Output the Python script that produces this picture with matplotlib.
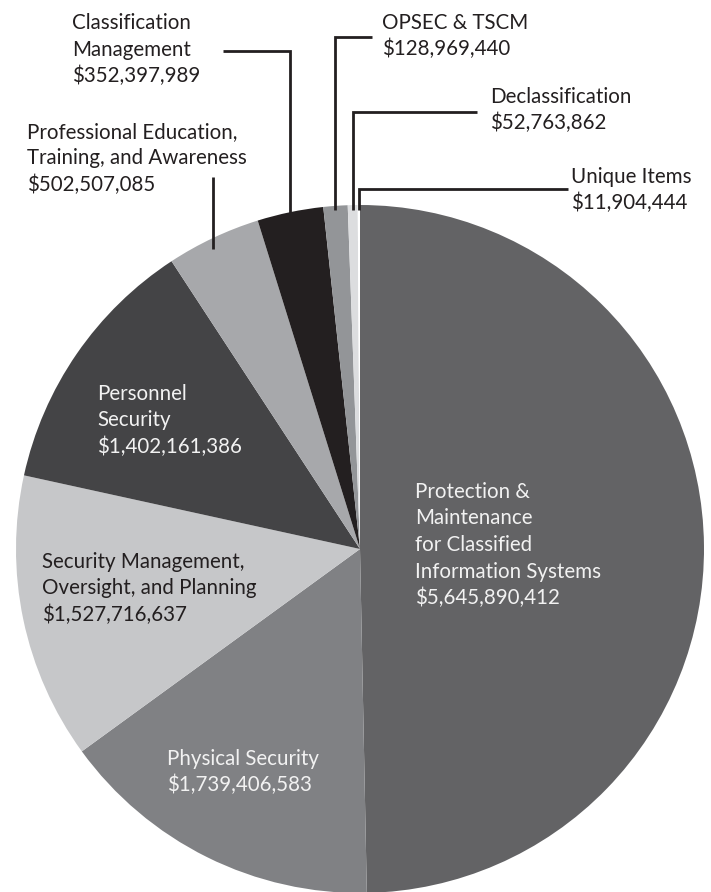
import numpy as np
import matplotlib
matplotlib.use("Agg")
import matplotlib.pyplot as plt

# ---- data (clockwise from 12 o'clock) ----
categories = [
    "Protection &\nMaintenance\nfor Classified\nInformation Systems",
    "Physical Security",
    "Security Management,\nOversight, and Planning",
    "Personnel\nSecurity",
    "Professional Education,\nTraining, and Awareness",
    "Classification\nManagement",
    "OPSEC & TSCM",
    "Declassification",
    "Unique Items",
]
values = [5645890412, 1739406583, 1527716637, 1402161386, 502507085,
          352397989, 128969440, 52763862, 11904444]
colors = ["#636365", "#808184", "#c6c7c9", "#444446", "#a7a8ab",
          "#231f20", "#939598", "#dcdddf", "#ffffff"]

W, H = 711, 892
FONT = ["Lato", "DejaVu Sans"]
DARK = "#231f20"
LIGHT = "#f2f2f2"
FS = 14.8
STEP = 26.5

fig = plt.figure(figsize=(W / 100, H / 100), dpi=100)
ax = fig.add_axes([0, 0, 1, 1])

def Y(y):
    return H - y

cx, cy, R = 360, Y(549), 344
wedges, _ = ax.pie(values, colors=colors, startangle=90, counterclock=False,
                   center=(cx, cy), radius=R, wedgeprops=dict(linewidth=0))
ax.set_xlim(0, W)
ax.set_ylim(0, H)
ax.set_aspect("auto")
ax.axis("off")

def money(v):
    return "${:,}".format(v)

def label(i, x, y_first, color):
    lines = categories[i].split("\n") + [money(values[i])]
    for k, s in enumerate(lines):
        ax.text(x, Y(y_first + 7 + k * STEP), s, ha="left", va="baseline",
                fontsize=FS, color=color, family=FONT, fontweight="normal")

# interior labels
label(0, 415, 491, LIGHT)
label(1, 167, 758, LIGHT)
label(2, 42, 561, DARK)
label(3, 97, 393, LIGHT)
# exterior labels
label(4, 27, 131, DARK)
label(5, 72, 22, DARK)
label(6, 382, 22, DARK)
label(7, 490, 96, DARK)
label(8, 571, 176, DARK)

def edge_point(i, inset):
    w = wedges[i]
    th = np.deg2rad((w.theta1 + w.theta2) / 2)
    return cx + R * np.cos(th), cy + (R - inset) * np.sin(th)

lw = 2.0
# Professional Education: vertical only
x, ye = edge_point(4, 12)
ax.plot([x, x], [Y(177), ye], color=DARK, lw=lw, solid_capstyle="butt")
# elbow leaders: (index, y of horizontal, x start of horizontal, inset)
for i, yh, xs, inset in [(5, 51, 223, 6), (6, 37, 372, 4), (7, 112, 477, 5), (8, 189, 568, 5)]:
    x, ye = edge_point(i, inset)
    ax.plot([xs, x, x], [Y(yh), Y(yh), ye], color=DARK, lw=lw,
            solid_joinstyle="miter", solid_capstyle="butt")

fig.savefig("out.png", dpi=100)
